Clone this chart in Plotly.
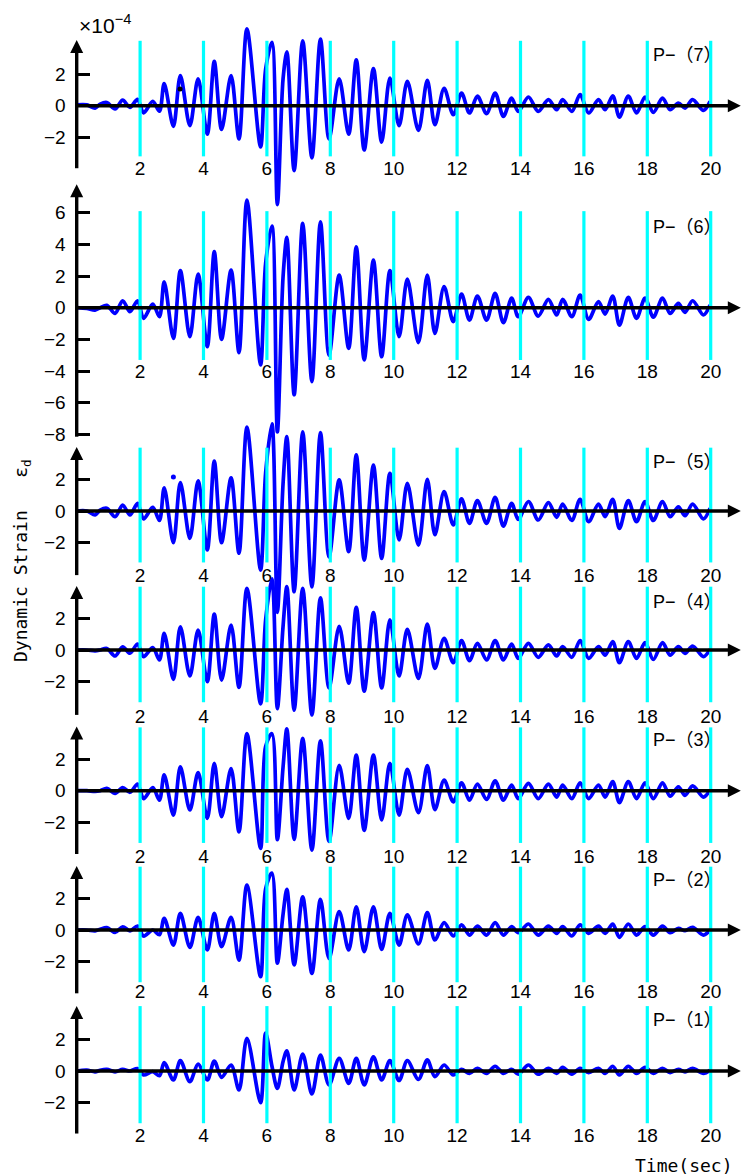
import plotly.graph_objects as go

# ---------------- data ----------------
# times (s) of the successive peaks / troughs of the records
time_ext = [0.00, 0.32, 0.58, 0.74, 0.95, 1.21, 1.45, 1.68, 1.92,
            2.11, 2.40, 2.61, 2.76, 3.05, 3.27, 3.57, 3.83, 4.12, 4.34,
            4.57, 4.87, 5.12, 5.37, 5.80, 5.96, 6.16, 6.33, 6.51, 6.63,
            6.86, 7.13, 7.42, 7.69, 7.96, 8.28, 8.58, 8.82, 9.07, 9.36,
            9.62, 9.88, 10.17, 10.43, 10.78, 11.06, 11.30, 11.59, 11.88, 12.14,
            12.39, 12.64, 12.93, 13.20, 13.46, 13.72, 13.93, 14.25, 14.56, 14.88,
            15.14, 15.33, 15.62, 15.88, 16.15, 16.46, 16.67, 16.91, 17.12, 17.40,
            17.66, 17.93, 18.19, 18.48, 18.72, 18.98, 19.19, 19.43, 19.77, 19.98]

# dynamic strain (x 1e-4) at those times
strain_p7 = [0.05, 0.05, -0.15, 0.1, 0.2, -0.2, 0.35, -0.1, 0.4,
             -0.45, 0.27, -0.35, 1.4, -1.3, 1.9, -1.26, 1.7, -1.8, 2.8,
             -1.5, 1.9, -2.1, 4.85, -2.6, 2.3, 4.0, -6.25, 1.7, 3.4,
             -4.1, 4.1, -3.3, 4.2, -2.1, 1.7, -1.8, 2.9, -2.8, 2.35,
             -2.3, 1.75, -1.26, 1.54, -1.56, 1.6, -1.2, 1.1, -0.57, 0.8,
             -0.46, 0.6, -0.5, 0.8, -0.67, 0.48, -0.36, 0.55, -0.36, 0.38,
             -0.25, 0.38, -0.36, 0.7, -0.46, 0.38, -0.25, 0.63, -0.72, 0.6,
             -0.46, 0.55, -0.42, 0.48, -0.25, 0.17, -0.15, 0.38, -0.3, 0.27]
strain_p6 = [0.0, -0.05, -0.15, 0.0, 0.15, -0.36, 0.44, -0.25, 0.44,
             -0.67, 0.23, -0.57, 1.64, -1.94, 2.34, -1.83, 2.13, -2.46, 3.54,
             -2.0, 2.38, -2.84, 6.8, -3.62, 2.8, 5.16, -7.85, 1.96, 4.44,
             -5.5, 5.33, -4.67, 5.43, -3.0, 2.06, -2.57, 3.85, -3.3, 3.0,
             -3.1, 2.34, -1.83, 1.8, -2.2, 2.06, -1.62, 1.33, -0.88, 0.86,
             -0.78, 0.74, -0.78, 0.9, -0.95, 0.6, -0.57, 0.65, -0.53, 0.53,
             -0.46, 0.53, -0.57, 0.8, -0.74, 0.38, -0.4, 0.74, -1.1, 0.65,
             -0.67, 0.6, -0.6, 0.6, -0.36, 0.27, -0.3, 0.44, -0.46, 0.17]
strain_p5 = [0.0, 0.0, -0.25, 0.05, 0.17, -0.36, 0.38, -0.25, 0.48,
             -0.5, 0.23, -0.6, 1.47, -2.0, 1.8, -1.73, 1.9, -2.46, 3.16,
             -2.0, 2.1, -2.67, 5.3, -3.73, 2.4, 5.5, -6.4, 1.75, 4.7,
             -5.1, 5.0, -4.8, 4.95, -2.9, 1.96, -2.57, 3.54, -3.1, 2.9,
             -3.0, 2.38, -1.83, 1.75, -2.15, 2.0, -1.5, 1.22, -0.88, 0.76,
             -0.78, 0.65, -0.78, 0.86, -0.95, 0.48, -0.53, 0.6, -0.57, 0.53,
             -0.4, 0.44, -0.6, 0.74, -0.67, 0.44, -0.36, 0.74, -1.1, 0.65,
             -0.67, 0.6, -0.6, 0.6, -0.36, 0.27, -0.3, 0.44, -0.5, 0.17]
strain_p4 = [0.0, 0.0, -0.05, 0.0, 0.1, -0.38, 0.2, -0.2, 0.38,
             -0.42, 0.15, -0.63, 1.05, -1.85, 1.47, -1.64, 1.26, -2.0, 2.27,
             -1.9, 1.58, -2.36, 3.9, -3.4, 1.9, 4.5, -3.7, 1.5, 4.0,
             -3.8, 3.9, -4.1, 3.3, -2.4, 1.5, -2.1, 2.7, -2.6, 2.36,
             -2.4, 1.9, -1.64, 1.3, -1.8, 1.64, -1.16, 0.74, -0.8, 0.6,
             -0.67, 0.42, -0.63, 0.6, -0.63, 0.38, -0.53, 0.42, -0.46, 0.32,
             -0.38, 0.21, -0.46, 0.6, -0.53, 0.21, -0.32, 0.53, -0.8, 0.53,
             -0.53, 0.46, -0.6, 0.46, -0.32, 0.21, -0.21, 0.25, -0.42, 0.04]
strain_p3 = [0.0, 0.0, -0.05, 0.0, 0.15, -0.17, 0.2, -0.1, 0.42,
             -0.5, 0.2, -0.6, 1.0, -1.54, 1.5, -1.22, 1.14, -1.75, 1.73,
             -1.64, 1.4, -2.6, 3.6, -3.64, 2.8, 3.6, -3.1, 1.5, 3.9,
             -3.07, 3.3, -3.75, 3.15, -3.2, 1.6, -1.75, 2.25, -2.5, 2.25,
             -1.85, 1.73, -1.54, 1.35, -1.39, 1.58, -1.2, 0.67, -0.7, 0.5,
             -0.6, 0.42, -0.55, 0.63, -0.6, 0.36, -0.5, 0.46, -0.5, 0.42,
             -0.4, 0.36, -0.5, 0.5, -0.5, 0.36, -0.4, 0.57, -0.75, 0.57,
             -0.5, 0.5, -0.5, 0.5, -0.35, 0.25, -0.3, 0.3, -0.4, 0.05]
strain_p2 = [0.0, 0.0, -0.05, 0.05, 0.15, -0.15, 0.2, -0.05, 0.25,
             -0.38, 0.0, -0.3, 0.74, -0.95, 1.05, -1.1, 0.8, -1.26, 1.05,
             -1.05, 0.8, -1.9, 2.84, -2.95, 2.6, 3.6, -2.1, 1.0, 2.57,
             -2.2, 2.1, -2.74, 1.94, -1.8, 1.16, -1.26, 1.47, -1.37, 1.47,
             -1.22, 1.05, -0.95, 0.95, -0.88, 1.1, -0.63, 0.46, -0.38, 0.32,
             -0.32, 0.25, -0.32, 0.46, -0.32, 0.21, -0.17, 0.38, -0.32, 0.25,
             -0.21, 0.21, -0.38, 0.32, -0.21, 0.25, -0.21, 0.38, -0.46, 0.38,
             -0.32, 0.21, -0.32, 0.25, -0.17, 0.1, -0.04, 0.17, -0.32, 0.0]
strain_p1 = [0.0, 0.05, -0.05, 0.05, 0.1, -0.05, 0.1, 0.0, 0.15,
             -0.25, -0.04, -0.3, 0.53, -0.57, 0.65, -0.67, 0.44, -0.57, 0.63,
             -0.4, 0.38, -1.2, 2.06, -2.0, 2.4, 0.3, -1.1, 0.6, 1.28,
             -1.2, 1.07, -1.45, 1.0, -0.88, 0.8, -0.78, 0.8, -0.88, 0.9,
             -0.57, 0.65, -0.6, 0.65, -0.53, 0.7, -0.36, 0.38, -0.25, 0.1,
             -0.15, 0.17, -0.15, 0.3, -0.15, 0.1, -0.2, 0.38, -0.2, 0.17,
             -0.15, 0.23, -0.2, 0.17, -0.1, 0.17, -0.15, 0.3, -0.25, 0.3,
             -0.15, 0.23, -0.15, 0.17, -0.1, 0.1, -0.05, 0.17, -0.15, 0.05]

panel_names = ["P−（7）", "P−（6）", "P−（5）", "P−（4）", "P−（3）", "P−（2）", "P−（1）"]
panel_series = [strain_p7, strain_p6, strain_p5, strain_p4, strain_p3, strain_p2, strain_p1]

time_ticks = [2, 4, 6, 8, 10, 12, 14, 16, 18, 20]
ytick_small = [-2, 0, 2]
ytick_large = [-8, -6, -4, -2, 0, 2, 4, 6]

# stray dots visible on the records: (panel index, time, value, colour)
stray_dots = [(0, 3.26, 1.05, "black"), (2, 3.05, 2.15, "blue")]

# ---------------- layout geometry (pixels) ----------------
W, H = 742, 1176
X0_PX = 76.7          # pixel of t = 0
PX_PER_S = 31.7
PX_PER_UNIT = 15.83
T_END = 20.95         # tip of the time arrow
zero_px = [105.7, 307.7, 511.0, 650.0, 790.7, 930.0, 1071.0]
axis_top = [4.15, 7.8, 4.05, 4.05, 4.05, 4.05, 4.1]
axis_bot = [-3.95, -8.15, -4.05, -4.1, -4.0, -4.0, -3.95]
cyan_top = [4.1, 6.1, 4.0, 4.0, 4.0, 4.0, 4.1]
cyan_bot = [-3.2, -3.3, -3.25, -3.3, -3.3, -3.3, -3.3]
label_y = [-4.1, -4.15, -4.2, -4.3, -4.25, -4.0, -4.2]
name_y = [3.2, 5.1, 3.1, 3.05, 3.2, 3.15, 3.2]

xr = [-X0_PX / PX_PER_S, (W - X0_PX) / PX_PER_S]

fig = go.Figure()
annotations = []
layout_axes = {}
TXT = dict(family="Liberation Sans, Arial", size=19, color="black")

for i, (name, vals) in enumerate(zip(panel_names, panel_series)):
    yname = "y" if i == 0 else f"y{i+1}"
    lname = "yaxis" if i == 0 else f"yaxis{i+1}"
    Z = zero_px[i]
    yr = [(Z - H) / PX_PER_UNIT, Z / PX_PER_UNIT]
    ax = dict(range=yr, domain=[0, 1], anchor="free", position=X0_PX / W,
              tickvals=ytick_large if i == 1 else ytick_small,
              ticks="inside", ticklen=12, tickwidth=3, tickcolor="black",
              showline=False, showgrid=False, zeroline=False,
              tickfont=TXT, ticklabelstandoff=11, fixedrange=True, automargin=False)
    if i > 0:
        ax["overlaying"] = "y"
    layout_axes[lname] = ax

    # record
    fig.add_trace(go.Scatter(x=time_ext, y=vals, yaxis=yname, mode="lines",
                             line=dict(color="#0000FF", width=3.7, shape="spline", smoothing=0.9),
                             hoverinfo="skip"))
    # cyan time markers
    cx, cy = [], []
    for t in time_ticks:
        cx += [t, t, None]
        cy += [cyan_top[i], cyan_bot[i], None]
    fig.add_trace(go.Scatter(x=cx, y=cy, yaxis=yname, mode="lines",
                             line=dict(color="#00FFFF", width=3.2), hoverinfo="skip"))
    # time tick labels
    fig.add_trace(go.Scatter(x=time_ticks, y=[label_y[i]] * len(time_ticks), yaxis=yname,
                             mode="text", text=[str(t) for t in time_ticks],
                             textfont=TXT, cliponaxis=False, hoverinfo="skip"))
    # stray dots
    for (pi, t, v, c) in stray_dots:
        if pi == i:
            fig.add_trace(go.Scatter(x=[t], y=[v], yaxis=yname, mode="markers",
                                     marker=dict(color=c, size=5), hoverinfo="skip"))

    # axes: vertical strain axis and zero time line, with arrow heads
    fig.add_trace(go.Scatter(x=[0, 0, None, 0, T_END - 0.3],
                             y=[axis_bot[i], axis_top[i] - 0.6, None, 0, 0],
                             yaxis=yname, mode="lines",
                             line=dict(color="black", width=3.4), hoverinfo="skip"))
    fig.add_trace(go.Scatter(x=[0], y=[axis_top[i]], yaxis=yname, mode="markers",
                             marker=dict(symbol="arrow-up", size=13, color="black",
                                         line=dict(width=0)),
                             cliponaxis=False, hoverinfo="skip"))
    fig.add_trace(go.Scatter(x=[T_END], y=[0], yaxis=yname, mode="markers",
                             marker=dict(symbol="arrow-right", size=13, color="black",
                                         line=dict(width=0)),
                             cliponaxis=False, hoverinfo="skip"))

    # panel name
    annotations.append(dict(x=18.12, y=name_y[i], xref="x", yref=yname, text=name,
                            showarrow=False, xanchor="left", yanchor="middle",
                            font=dict(family="Liberation Sans, Noto Sans CJK JP", size=18,
                                      color="black")))

annotations.append(dict(x=77 / W, y=1 - 24 / H, xref="paper", yref="paper",
                        text="×10<sup>−4</sup>", showarrow=False, xanchor="left", yanchor="middle",
                        font=dict(family="Liberation Sans, Arial", size=21, color="black")))
annotations.append(dict(x=22 / W, y=1 - 561 / H, xref="paper", yref="paper",
                        text="Dynamic Strain   ε<sub>d</sub>", textangle=-90,
                        showarrow=False, xanchor="center", yanchor="middle",
                        font=dict(family="DejaVu Sans Mono", size=18, color="black")))
annotations.append(dict(x=684 / W, y=1 - 1165 / H, xref="paper", yref="paper",
                        text="Time(sec)", showarrow=False, xanchor="center", yanchor="middle",
                        font=dict(family="DejaVu Sans Mono", size=18, color="black")))

fig.update_layout(width=W, height=H, margin=dict(l=0, r=0, t=0, b=0, pad=0),
                  paper_bgcolor="white", plot_bgcolor="rgba(0,0,0,0)", showlegend=False,
                  xaxis=dict(range=xr, domain=[0, 1], visible=False, fixedrange=True),
                  annotations=annotations, **layout_axes)

fig.write_html("out.html")
